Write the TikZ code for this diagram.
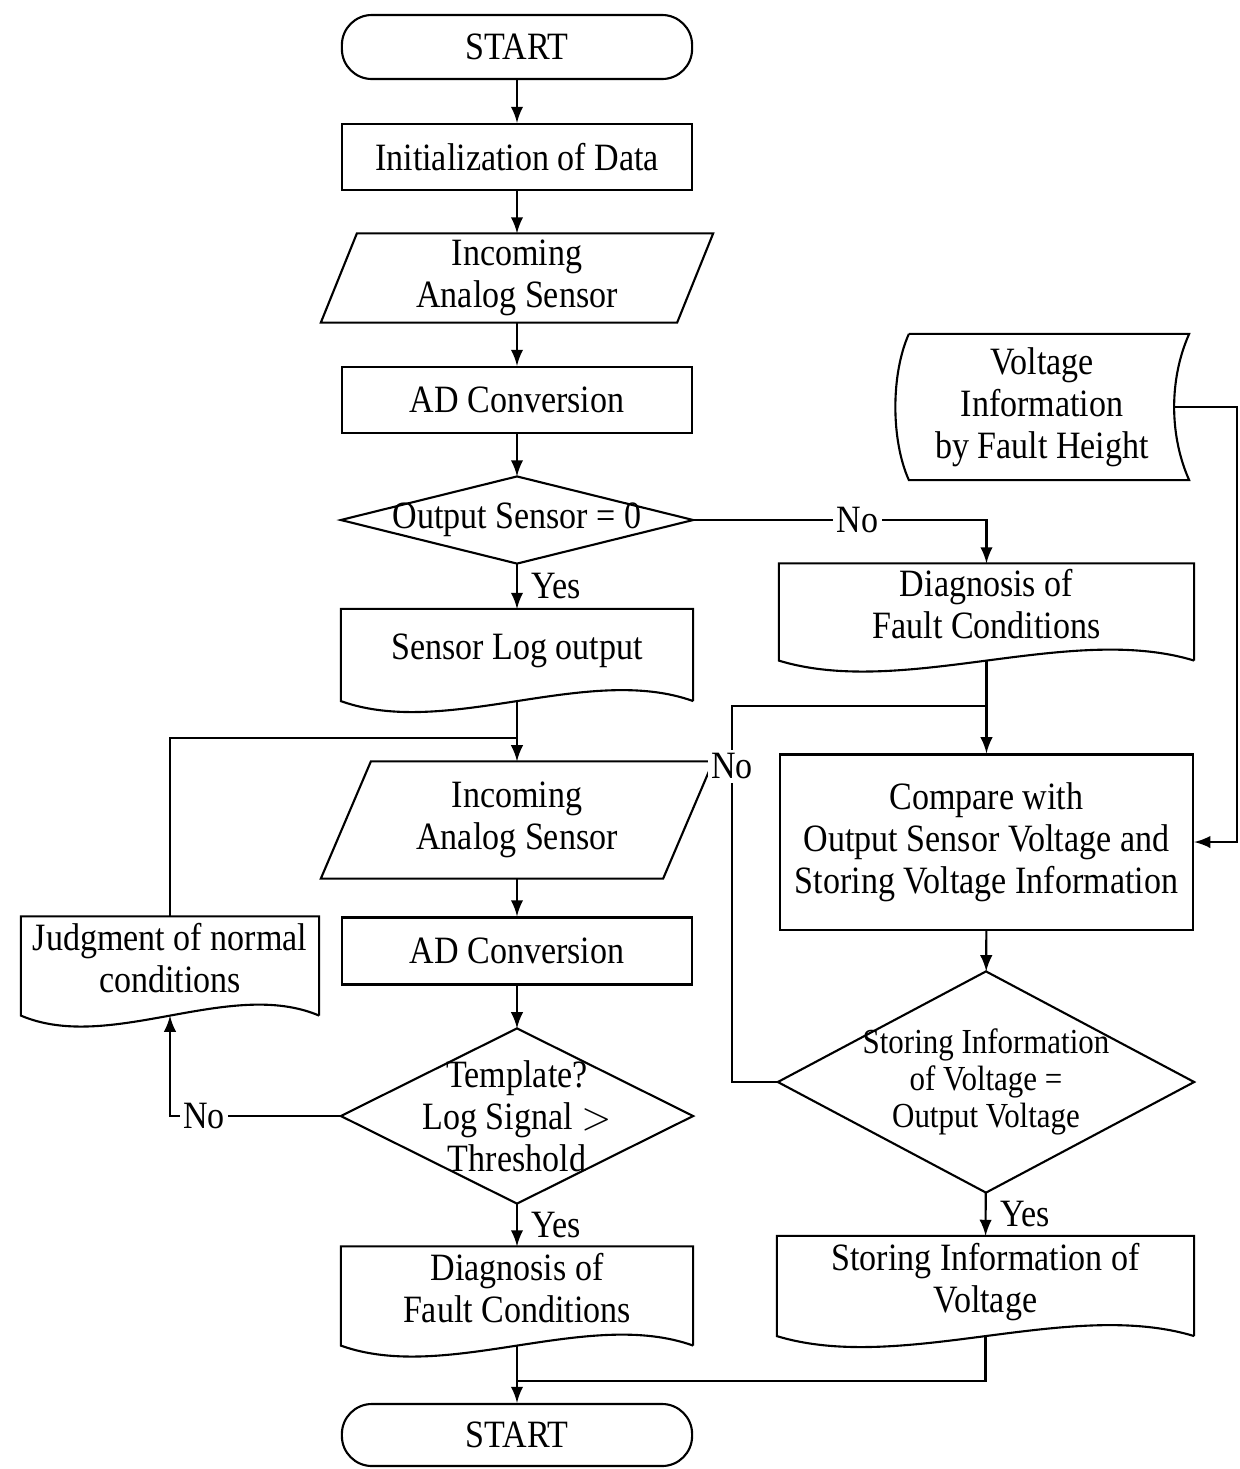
\documentclass[tikz,border=0pt]{standalone}
\usepackage{fontspec}
\setmainfont{Liberation Serif}[FakeStretch=0.88]
\usetikzlibrary{arrows, calc}

% outlines drawn round plain rectangle nodes
\newcommand{\diamondoutline}[1]{%
  \draw (#1.north) -- (#1.east) -- (#1.south) -- (#1.west) -- cycle;}
\newcommand{\iooutline}[2]{%
  \draw ([xshift=#2]#1.north west) -- (#1.north east) -- ([xshift=-#2]#1.south east) -- (#1.south west) -- cycle;}
\newcommand{\docoutline}[1]{%
  \draw (#1.south east) -- (#1.north east) -- (#1.north west) -- (#1.south west)
    .. controls ($(#1.south west)!0.3!(#1.south east)+(0cm,-0.38cm)$) and ($(#1.south west)!0.7!(#1.south east)+(0cm,0.38cm)$) .. (#1.south east);}
\newcommand{\storeoutline}[1]{%
  \draw ([xshift=0.14cm]#1.north west) -- (#1.north east)
    .. controls ([xshift=-0.2cm,yshift=-0.45cm]#1.north east) and ([xshift=-0.2cm,yshift=0.45cm]#1.south east) .. (#1.south east)
    -- ([xshift=0.14cm]#1.south west)
    .. controls ([xshift=-0.04cm,yshift=0.4cm]#1.south west) and ([xshift=-0.04cm,yshift=-0.4cm]#1.north west) .. ([xshift=0.14cm]#1.north west);}

\begin{document}
\begin{tikzpicture}[x=0.01cm, y=-0.01cm, line width=0.6pt,
    every node/.style={font=\fontsize{11}{12}\selectfont, align=center, inner sep=1pt},
    terminal/.style={rectangle, draw, rounded corners=0.3cm, minimum width=3.5cm, minimum height=0.64cm},
    process/.style={rectangle, draw, minimum width=3.5cm, minimum height=0.66cm},
    inout/.style={rectangle, minimum width=3.9cm, minimum height=0.87cm},
    decision/.style={rectangle, minimum width=3.5cm, minimum height=0.85cm},
    docbox/.style={rectangle, minimum width=3.5cm, minimum height=0.9cm, text depth=0.17cm},
    storage/.style={rectangle, minimum width=2.92cm, minimum height=1.44cm},
    flow/.style={->, >=latex},
    answer/.style={fill=white, inner sep=1pt},
    yes/.style={right, xshift=0.1cm}
]
\useasboundingbox (0,0) rectangle (1240,1469);

% Left column
\node[terminal] (startT) at (517,47) {START};
\node[process] (init) at (517,157) {Initialization of Data};
\node[inout] (inc1) at (517,278) {Incoming\\Analog Sensor};
\iooutline{inc1}{0.36cm}
\node[process] (ad1) at (517,400) {AD Conversion};
\node[decision] (dec1) at (517,520) {Output Sensor = 0};
\diamondoutline{dec1}
\node[docbox] (slog) at (517,655) {Sensor Log output};
\docoutline{slog}
\node[inout, minimum height=1.15cm] (inc2) at (517,820) {Incoming\\Analog Sensor};
\iooutline{inc2}{0.5cm}
\node[process, minimum height=0.67cm] (ad2) at (517,951) {AD Conversion};
\node[decision, minimum height=1.73cm] (dec3) at (517,1116) {Template?\\Log Signal $>$\\Threshold};
\diamondoutline{dec3}
\node[docbox, minimum height=0.97cm] (diagL) at (517,1296) {Diagnosis of\\Fault Conditions};
\docoutline{diagL}
\node[terminal, minimum height=0.62cm] (endT) at (517,1435) {START};
\node[docbox, minimum width=2.96cm, minimum height=0.97cm] (judg) at (170,966) {Judgment of normal\\conditions};
\docoutline{judg}

% Right column
\node[storage] (volt) at (1042,407) {Voltage\\Information\\by Fault Height};
\storeoutline{volt}
\node[docbox, minimum width=4.13cm, minimum height=0.95cm] (diagR) at (986.5,612) {Diagnosis of\\Fault Conditions};
\docoutline{diagR}
\node[process, minimum width=4.13cm, minimum height=1.75cm] (cmp) at (986.5,842) {Compare with\\Output Sensor Voltage and\\Storing Voltage Information};
\node[decision, minimum width=4.14cm, minimum height=2.19cm, font=\fontsize{10}{10.6}\selectfont] (dec2) at (986,1082) {Storing Information\\of Voltage =\\Output Voltage};
\diamondoutline{dec2}
\node[docbox, minimum width=4.15cm, minimum height=0.98cm] (store) at (985.5,1286) {Storing Information of\\Voltage};
\docoutline{store}

% Junctions
\coordinate (joinL) at (517,738);
\coordinate (joinR) at (986.5,706);
\coordinate (joinB) at (517,1381);
\coordinate (volt-out) at ([xshift=-0.15cm]volt.east);

% Flow
\draw[flow] (startT) -- (init);
\draw[flow] (init) -- (inc1);
\draw[flow] (inc1) -- (ad1);
\draw[flow] (ad1) -- (dec1);
\draw[flow] (dec1) -- node[yes] {Yes} (slog);
\draw[flow] (dec1.east) -| node[answer, pos=0.28] {No} (diagR.north);
\draw[flow] (slog) -- (inc2);
\draw (judg.north) |- (joinL);
\draw[flow] (inc2) -- (ad2);
\draw[flow] (ad2) -- (dec3);
\draw[flow] (dec3.west) -| node[answer, pos=0.4] {No} (judg.south);
\draw[flow] (dec3) -- node[yes] {Yes} (diagL);
\draw[flow] (diagL) -- (endT);

\draw[flow] (diagR) -- (cmp);
\draw[flow] (volt-out) -- ++(63,0) |- (cmp.east);
\draw[flow] (cmp) -- (dec2);
\draw (dec2.west) -- ++(-46,0) |- node[answer, pos=0.42] {No} (joinR);
\draw[flow] (dec2) -- node[yes] {Yes} (store);
\draw (store.south) |- (joinB);

\end{tikzpicture}
\end{document}
